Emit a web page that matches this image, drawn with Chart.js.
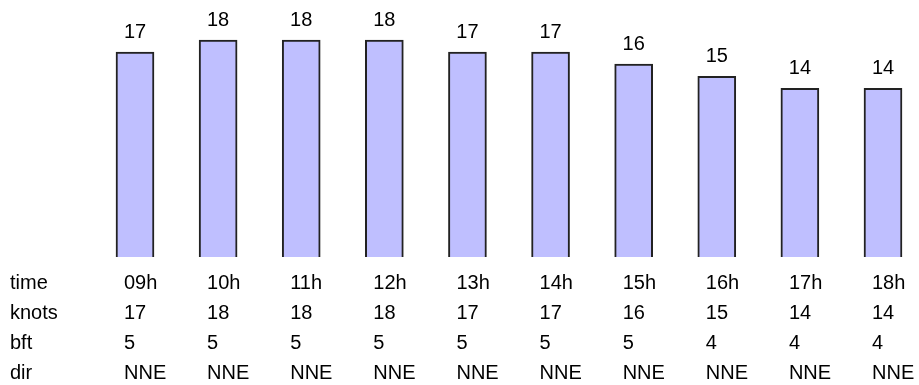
<!DOCTYPE html>
<html>
<head>
<meta charset="utf-8">
<script src="https://cdn.jsdelivr.net/npm/chart.js@4"></script>
<style>
  html, body { margin: 0; padding: 0; background: #fff; }
  #wrap { width: 919px; height: 385px; }
</style>
</head>
<body>
<div id="wrap"><canvas id="wind" width="919" height="385"></canvas></div>
<script>
// wind forecast, one column per hour
const TIMES = ['09h', '10h', '11h', '12h', '13h', '14h', '15h', '16h', '17h', '18h'];
const KNOTS = [17, 18, 18, 18, 17, 17, 16, 15, 14, 14];
const BFT   = [5, 5, 5, 5, 5, 5, 5, 4, 4, 4];
const DIRS  = ['NNE', 'NNE', 'NNE', 'NNE', 'NNE', 'NNE', 'NNE', 'NNE', 'NNE', 'NNE'];
const ROW_LABELS = ['time', 'knots', 'bft', 'dir'];

const FONT = '20px Arial, "Liberation Sans", sans-serif';

// numbers above each bar
const valueLabels = {
  id: 'valueLabels',
  afterDatasetsDraw(chart) {
    const ctx = chart.ctx;
    const meta = chart.getDatasetMeta(0);
    ctx.save();
    ctx.font = FONT;
    ctx.fillStyle = '#000';
    ctx.textAlign = 'center';
    ctx.textBaseline = 'alphabetic';
    meta.data.forEach((bar, i) => {
      ctx.fillText(String(KNOTS[i]), bar.x, bar.y - 14);
    });
    ctx.restore();
  }
};

// table under the bars
const dataTable = {
  id: 'dataTable',
  afterDraw(chart) {
    const ctx = chart.ctx;
    const x = chart.scales.x;
    const rows = [TIMES, KNOTS, BFT, DIRS];
    ctx.save();
    ctx.font = FONT;
    ctx.fillStyle = '#000';
    ctx.textAlign = 'left';
    ctx.textBaseline = 'alphabetic';
    rows.forEach((row, r) => {
      const y = 289 + r * 30;
      ctx.fillText(ROW_LABELS[r], 10, y);
      row.forEach((v, i) => {
        ctx.fillText(String(v), x.getPixelForValue(i) - 11, y);
      });
    });
    ctx.restore();
  }
};

new Chart(document.getElementById('wind'), {
  type: 'bar',
  data: {
    labels: TIMES,
    datasets: [{
      data: KNOTS,
      backgroundColor: '#bfbfff',
      borderColor: '#222',
      borderWidth: 2,
      barThickness: 38,
      clip: false,
    }]
  },
  options: {
    responsive: false,
    animation: false,
    layout: { padding: { left: 135, right: 36, top: 16, bottom: 128 } },
    plugins: { legend: { display: false }, tooltip: { enabled: false } },
    scales: {
      x: { display: false, offset: false },
      y: { display: false, min: 0, max: 20 }
    }
  },
  plugins: [valueLabels, dataTable]
});
</script>
</body>
</html>
